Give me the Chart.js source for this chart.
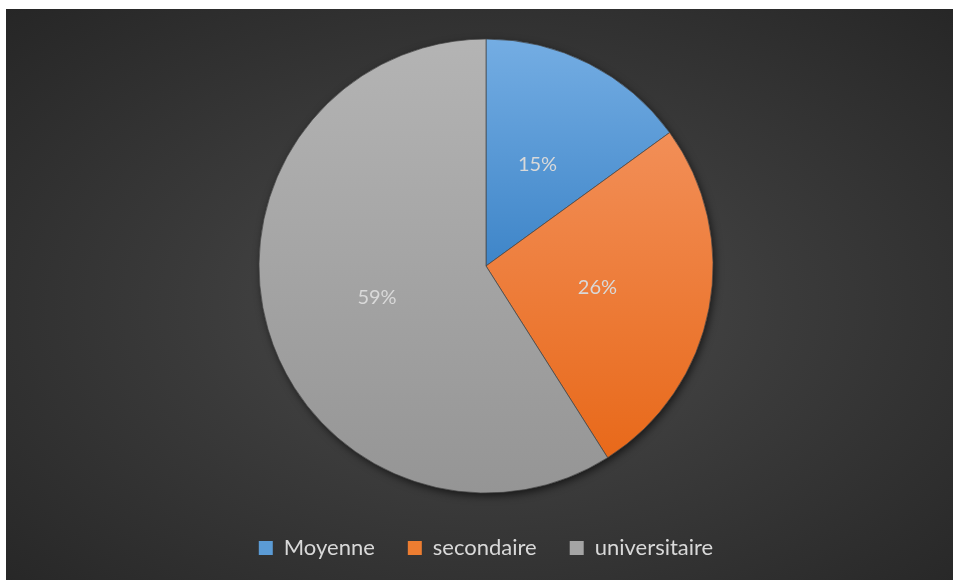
<!DOCTYPE html>
<html>
<head>
<meta charset="utf-8">
<script src="https://cdn.jsdelivr.net/npm/chart.js@4.4.0/dist/chart.umd.min.js"></script>
<style>
  html, body { margin: 0; padding: 0; background: #ffffff; }
  #wrap {
    position: absolute;
    left: 6px; top: 9px;
    width: 947px; height: 571px;
    overflow: hidden;
    background: radial-gradient(ellipse farthest-corner at 51% 52%, #4c4c4c 0%, #3a3a3a 45%, #262626 100%);
  }
  #chart { display: block; }
</style>
</head>
<body>
<div id="wrap"><canvas id="chart" width="947" height="560"></canvas></div>
<script>
// Education level breakdown
const levels = ['Moyenne', 'secondaire', 'universitaire'];
const shares = [15, 26, 59];
const legendColors = ['#5b9bd5', '#ed7d31', '#a5a5a5'];

const textColor = '#d9d9d9';
const fontFamily = "Lato, 'Open Sans', sans-serif";
const pieRadius = 227;

// top/bottom colours for each slice, spread over the height of the pie
const sliceStops = [
    [[0, '#74ade3'], [0.5, '#3e85c8']],
    [[0.2, '#f28f58'], [0.92, '#e8691a']],
    [[0, '#b4b4b4'], [1, '#959595']]
];

function sliceFill(context) {
    const chart = context.chart;
    const area = chart.chartArea;
    if (!area) return legendColors[context.dataIndex];
    const cy = (area.top + area.bottom) / 2;
    const g = chart.ctx.createLinearGradient(0, cy - pieRadius, 0, cy + pieRadius);
    sliceStops[context.dataIndex].forEach(([pos, col]) => g.addColorStop(pos, col));
    return g;
}

// soft drop shadow under the whole pie
const pieShadow = {
    id: 'pieShadow',
    beforeDatasetsDraw(chart) {
        const arc = chart.getDatasetMeta(0).data[0];
        if (!arc) return;
        const ctx = chart.ctx;
        ctx.save();
        ctx.shadowColor = 'rgba(0, 0, 0, 0.65)';
        ctx.shadowBlur = 9;
        ctx.shadowOffsetX = 2;
        ctx.shadowOffsetY = 3;
        ctx.fillStyle = '#555';
        ctx.beginPath();
        ctx.arc(arc.x, arc.y, arc.outerRadius - 0.5, 0, Math.PI * 2);
        ctx.fill();
        ctx.restore();
    }
};

// percentage labels halfway out on each slice
const sliceLabels = {
    id: 'sliceLabels',
    afterDatasetsDraw(chart) {
        const ctx = chart.ctx;
        const meta = chart.getDatasetMeta(0);
        ctx.save();
        ctx.font = '20px ' + fontFamily;
        ctx.fillStyle = textColor;
        ctx.textAlign = 'center';
        ctx.textBaseline = 'middle';
        meta.data.forEach((arc, i) => {
            const pos = arc.tooltipPosition();
            ctx.fillText(shares[i] + '%', pos.x, pos.y);
        });
        ctx.restore();
    }
};

new Chart(document.getElementById('chart'), {
    type: 'pie',
    data: {
        labels: levels,
        datasets: [{
            data: shares,
            backgroundColor: sliceFill,
            borderColor: 'rgba(70, 70, 70, 0.9)',
            borderWidth: 0.8,
            radius: pieRadius
        }]
    },
    options: {
        responsive: false,
        animation: false,
        layout: {
            padding: { top: 19, left: 13, right: 0, bottom: 0 }
        },
        plugins: {
            legend: {
                position: 'bottom',
                labels: {
                    color: textColor,
                    boxWidth: 14,
                    boxHeight: 14,
                    padding: 33,
                    font: { family: fontFamily, size: 22 },
                    generateLabels(chart) {
                        return levels.map((name, i) => ({
                            text: name,
                            fillStyle: legendColors[i],
                            strokeStyle: 'rgba(0,0,0,0)',
                            lineWidth: 0,
                            fontColor: textColor,
                            index: i
                        }));
                    }
                }
            },
            tooltip: { enabled: false }
        }
    },
    plugins: [pieShadow, sliceLabels]
});
</script>
</body>
</html>
